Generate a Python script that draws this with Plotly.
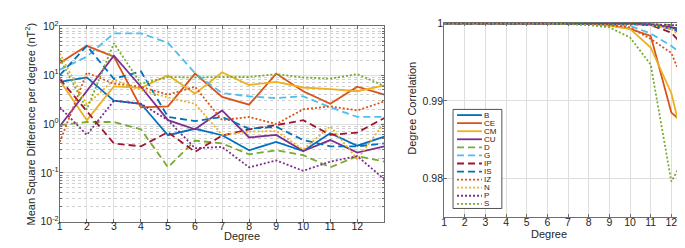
import plotly.graph_objects as go

# ---------------- data ----------------
degrees = list(range(1, 14))
series_names = ["B", "CE", "CM", "CU", "D", "G", "IP", "IS", "IZ", "N", "P", "S"]

# Mean square difference per degree (nT^2)
msd_B  = [7.3, 9.0, 3.0, 2.6, 0.59, 0.80, 0.59, 0.29, 0.43, 0.28, 0.65, 0.36, 0.55]
msd_CE = [17.7, 40, 24, 2.2, 2.3, 10.8, 3.6, 2.5, 10.8, 4.7, 2.6, 5.8, 4.0]
msd_CM = [7.8, 1.2, 5.9, 5.5, 10.0, 4.2, 11.5, 6.3, 7.3, 5.6, 5.2, 4.7, 6.2]
msd_CU = [0.9, 4.8, 25, 5.8, 1.2, 0.78, 1.9, 0.53, 0.6, 0.28, 0.47, 0.26, 0.35]
msd_D  = [0.95, 1.1, 1.1, 0.78, 0.13, 0.46, 0.40, 0.24, 0.29, 0.23, 0.13, 0.22, 0.17]
msd_G  = [13, 24, 72, 72, 46, 11, 4.3, 3.7, 3.4, 3.7, 2.2, 1.4, 1.4]
msd_IP = [8.4, 1.8, 0.40, 0.35, 0.68, 0.27, 0.58, 0.78, 0.95, 1.2, 0.60, 0.67, 1.33]
msd_IS = [10, 40, 8.4, 12, 1.4, 1.15, 1.4, 0.80, 0.88, 0.47, 0.35, 0.35, 0.40]
msd_IZ = [0.43, 11.3, 6.7, 5.8, 4.0, 5.8, 1.2, 1.4, 1.0, 2.0, 2.3, 1.9, 2.9]
msd_N  = [28, 2.5, 8.0, 5.0, 3.5, 2.6, 0.60, 0.70, 0.72, 0.30, 0.90, 0.19, 1.07]
msd_P  = [2.2, 0.60, 3.0, 2.6, 1.2, 0.32, 0.34, 0.13, 0.18, 0.11, 0.17, 0.22, 0.074]
msd_S  = [22, 2.0, 45, 6.7, 9.2, 9.0, 9.2, 9.2, 10.5, 9.0, 8.5, 10.5, 6.0]

# Degree correlation
corr_B  = [1, 1, 1, 1, 1, 1, 1, 1, 1, 0.99995, 0.9998, 0.9995, 0.9985]
corr_CE = [1, 1, 1, 1, 1, 1, 1, 1, 0.9998, 0.9993, 0.9984, 0.9885, 0.9862]
corr_CM = [1, 1, 1, 1, 1, 1, 1, 0.99995, 0.9997, 0.9993, 0.9969, 0.9910, 0.9800]
corr_CU = [1, 1, 1, 1, 1, 1, 1, 1, 1, 0.99995, 0.9999, 0.9995, 0.9991]
corr_D  = [1, 1, 1, 1, 1, 1, 1, 1, 1, 0.9999, 0.9999, 0.9998, 0.9997]
corr_G  = [1, 1, 1, 1, 1, 1, 1, 1, 0.9999, 0.9997, 0.9987, 0.9971, 0.9951]
corr_IP = [1, 1, 1, 1, 1, 1, 1, 1, 1, 0.99995, 0.9998, 0.9988, 0.9959]
corr_IS = [1, 1, 1, 1, 1, 1, 1, 1, 1, 0.99995, 0.9998, 0.9993, 0.9983]
corr_IZ = [1, 1, 1, 1, 1, 1, 1, 1, 0.9998, 0.9995, 0.9980, 0.9962, 0.9897]
corr_N  = [1, 1, 1, 1, 1, 1, 1, 1, 1, 0.99995, 0.9998, 0.9993, 0.9971]
corr_P  = [1, 1, 1, 1, 1, 1, 1, 1, 1, 1, 0.9999, 0.9998, 0.9997]
corr_S  = [1, 1, 1, 1, 1, 1, 0.9999, 0.9998, 0.9995, 0.9982, 0.9947, 0.9796, 0.9844]

x_tick_vals = list(range(1, 13))
x_tick_text = [str(v) for v in x_tick_vals]
msd_tick_vals = [0.01, 0.1, 1, 10, 100]
msd_tick_text = ["10<sup>-2</sup>", "10<sup>-1</sup>", "10<sup>0</sup>", "10<sup>1</sup>", "10<sup>2</sup>"]
corr_tick_vals = [0.98, 0.99, 1.0]
corr_tick_text = ["0.98", "0.99", "1"]

msd_data = [msd_B, msd_CE, msd_CM, msd_CU, msd_D, msd_G, msd_IP, msd_IS, msd_IZ, msd_N, msd_P, msd_S]
corr_data = [corr_B, corr_CE, corr_CM, corr_CU, corr_D, corr_G, corr_IP, corr_IS, corr_IZ, corr_N, corr_P, corr_S]

# ---------------- styles ----------------
colors = ["#0072BD", "#D95319", "#EDB120", "#7E2F8E", "#77AC30", "#4DBEEE",
          "#A2142F", "#0072BD", "#D95319", "#EDB120", "#7E2F8E", "#77AC30"]
DASHED = "7px,4px"
DOTTED = "2px,2px"
dashes = ["solid"] * 4 + [DASHED] * 4 + [DOTTED] * 4
LW = 1.8

W, H = 685, 248
def px(x):
    return x / W
def py(y):
    return 1 - y / H

FONT = "Liberation Sans, Arial, sans-serif"
TXT = "#262626"
AX = "#6e6e6e"
GRID = "#dedede"

fig = go.Figure()
for name, m, c, col, d in zip(series_names, msd_data, corr_data, colors, dashes):
    fig.add_trace(go.Scatter(x=degrees, y=m, xaxis="x", yaxis="y", mode="lines",
                             name=name, showlegend=False,
                             line=dict(color=col, width=LW, dash=d)))
    fig.add_trace(go.Scatter(x=degrees, y=c, xaxis="x2", yaxis="y2", mode="lines",
                             name=name, showlegend=False,
                             line=dict(color=col, width=LW, dash=d)))

axis_common = dict(showline=True, linecolor=AX, linewidth=1, mirror="ticks",
                   ticks="inside", ticklen=3, tickcolor=AX,
                   showgrid=True, gridcolor=GRID, gridwidth=1, zeroline=False,
                   tickfont=dict(family=FONT, size=10.5, color=TXT))

fig.update_layout(
    width=W, height=H,
    margin=dict(l=0, r=0, t=0, b=0),
    paper_bgcolor="white", plot_bgcolor="white",
    font=dict(family=FONT, color=TXT),
    xaxis=dict(domain=[px(49), px(375)], range=[1, 13], anchor="y",
               tickvals=x_tick_vals, ticktext=x_tick_text, ticklabelstandoff=-5,
               **axis_common),
    yaxis=dict(domain=[py(218), py(11)], type="log", range=[-2, 2], anchor="x",
               tickvals=msd_tick_vals, ticktext=msd_tick_text, ticklabelstandoff=-2,
               minor=dict(showgrid=True, gridcolor="#cfcfcf", griddash="dot",
                          ticks="inside", ticklen=2, tickcolor=AX, dtick="D1"),
               **axis_common),
    xaxis2=dict(domain=[px(435), px(684)], range=[1, 13], anchor="y2",
                tickvals=x_tick_vals, ticktext=x_tick_text, ticklabelstandoff=-5,
                **axis_common),
    yaxis2=dict(domain=[py(213.3), py(7.5)], range=[0.975, 1.00005], anchor="x2",
                tickvals=corr_tick_vals, ticktext=corr_tick_text, ticklabelstandoff=-2,
                **axis_common),
)

annotations = [
    dict(text="Degree", x=px(212), y=py(242), xref="paper", yref="paper",
         showarrow=False, font=dict(family=FONT, size=11, color=TXT)),
    dict(text="Degree", x=px(560), y=py(240), xref="paper", yref="paper",
         showarrow=False, font=dict(family=FONT, size=11, color=TXT)),
    dict(text="Mean Square Difference per degree (nT<sup>2</sup>)", x=px(10), y=py(114),
         xref="paper", yref="paper", showarrow=False, textangle=-90,
         font=dict(family=FONT, size=11, color=TXT)),
    dict(text="Degree Correlation", x=px(403), y=py(98), xref="paper", yref="paper",
         showarrow=False, textangle=-90, font=dict(family=FONT, size=11, color=TXT)),
]

# manual compact legend (box, line samples, labels)
shapes = [dict(type="rect", xref="paper", yref="paper",
               x0=px(444), x1=px(493), y0=py(204), y1=py(99),
               line=dict(color="#262626", width=0.8), fillcolor="white", layer="above")]
for i, (name, col, d) in enumerate(zip(series_names, colors, dashes)):
    yy = 105 + 8.55 * i
    shapes.append(dict(type="line", xref="paper", yref="paper",
                       x0=px(448), x1=px(473), y0=py(yy), y1=py(yy),
                       line=dict(color=col, width=LW, dash=d), layer="above"))
    annotations.append(dict(text=name, x=px(474.5), y=py(yy), xref="paper", yref="paper",
                            xanchor="left", yanchor="middle", showarrow=False, borderpad=0,
                            font=dict(family=FONT, size=8, color=TXT)))

fig.update_layout(annotations=annotations, shapes=shapes)
fig.write_html("out.html")
